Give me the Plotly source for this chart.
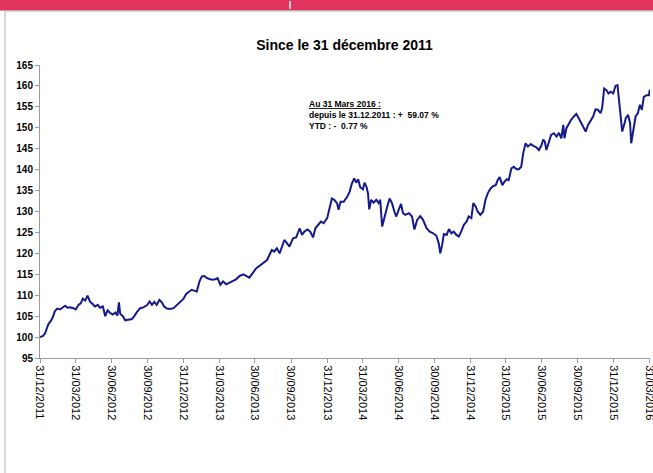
import pandas as pd
import plotly.graph_objects as go

start_date = "2011-12-31"
days_since_start = [
    0, 7, 13, 17, 21, 27, 32, 38, 44, 51, 57, 64, 70, 76, 85, 91, 98, 104, 109, 115,
    121, 127, 134, 140, 147, 153, 160, 166, 172, 178, 185, 192, 197, 201, 204, 211, 217,
    225, 234, 240, 246, 255, 263, 272, 279, 285, 291, 297, 304, 310, 316, 323, 331, 340,
    348, 357, 365, 372, 379, 386, 392, 399, 406, 412, 418, 425, 433, 440, 446, 452, 459,
    466, 474, 482, 491, 499, 508, 518, 527, 533, 550, 561, 569, 578, 584, 590, 596, 603,
    610, 616, 622, 629, 635, 644, 652, 661, 667, 673, 681, 688, 695, 701, 709, 715, 722,
    731, 737, 743, 749, 756, 760, 765, 773, 782, 788, 794, 800, 805, 810, 815, 822, 826,
    831, 835, 838, 843, 849, 856, 862, 866, 871, 877, 884, 890, 896, 902, 907, 913, 919,
    924, 930, 939, 947, 953, 960, 968, 975, 984, 992, 1001, 1009, 1015, 1019, 1024, 1028,
    1035, 1041, 1047, 1053, 1060, 1066, 1072, 1079, 1086, 1091, 1098, 1103, 1109, 1114,
    1121, 1128, 1134, 1140, 1147, 1154, 1160, 1165, 1170, 1177, 1182, 1188, 1193, 1200,
    1206, 1213, 1219, 1225, 1230, 1236, 1242, 1249, 1256, 1264, 1270, 1276, 1281, 1285,
    1289, 1295, 1301, 1308, 1315, 1321, 1327, 1332, 1335, 1340, 1346, 1352, 1359, 1365,
    1370, 1376, 1383, 1389, 1395, 1402, 1408, 1414, 1420, 1427, 1431, 1436, 1442, 1447,
    1453, 1459, 1465, 1470, 1474, 1478, 1482, 1487, 1491, 1497, 1502, 1505, 1510, 1516,
    1522, 1527, 1532, 1537, 1544, 1550, 1552,
]
index_values = [
    100.0, 100.2, 100.9, 102.0, 103.0, 103.8, 104.6, 106.2, 106.8, 106.6, 107.1, 107.5,
    107.0, 107.1, 106.9, 106.6, 107.7, 108.1, 109.2, 108.7, 109.9, 108.5, 107.9, 107.3,
    107.7, 107.0, 107.3, 105.0, 106.4, 105.8, 105.4, 105.9, 105.1, 108.3, 105.6, 105.0,
    104.0, 104.2, 104.3, 105.0, 105.9, 106.9, 107.1, 107.6, 108.5, 107.7, 108.4, 107.7,
    108.9, 108.3, 107.3, 106.8, 106.7, 106.9, 107.6, 108.5, 109.1, 110.3, 110.7, 111.3,
    111.1, 110.9, 113.3, 114.5, 114.6, 114.1, 113.8, 113.7, 113.8, 114.1, 112.5, 113.3,
    112.6, 113.0, 113.5, 113.8, 114.6, 115.0, 114.5, 114.2, 116.4, 117.2, 117.6, 118.4,
    119.6, 120.8, 120.4, 121.2, 120.0, 121.6, 123.2, 122.4, 121.6, 123.6, 123.8, 126.0,
    124.4, 125.2, 125.7, 125.2, 123.8, 126.0, 126.8, 127.6, 127.2, 128.4, 130.8, 133.1,
    132.8, 132.0, 130.4, 132.3, 132.3, 133.5, 134.7, 136.7, 137.9, 136.9, 137.7, 135.8,
    135.3, 136.9, 135.9, 134.3, 130.5, 132.8, 132.1, 132.8, 132.0, 132.8, 126.4, 128.8,
    131.2, 133.1, 132.0, 130.0, 128.8, 130.4, 131.8, 129.6, 129.2, 129.6, 128.8, 125.7,
    128.0, 128.9, 128.0, 126.0, 125.2, 124.8, 124.2, 122.4, 120.0, 122.2, 124.6, 124.4,
    125.8, 124.8, 125.2, 124.4, 124.0, 125.2, 126.8, 127.6, 128.8, 128.4, 132.0, 131.2,
    130.0, 129.2, 130.0, 132.8, 134.4, 135.5, 136.1, 136.3, 137.5, 138.2, 136.3, 137.1,
    137.7, 137.5, 140.3, 140.7, 140.1, 140.1, 140.7, 143.9, 146.3, 145.5, 146.1, 145.7,
    145.3, 144.7, 145.7, 147.2, 146.7, 144.7, 146.7, 148.3, 148.7, 147.9, 148.8, 147.5,
    150.7, 147.5, 149.9, 151.1, 151.9, 152.7, 153.3, 152.5, 151.5, 150.3, 149.1, 150.7,
    151.9, 152.7, 154.4, 154.3, 153.5, 154.7, 159.4, 159.0, 158.2, 158.6, 158.2, 160.0,
    160.2, 156.6, 151.9, 149.1, 150.7, 152.3, 153.1, 151.1, 146.3, 149.1, 152.7, 153.5,
    155.5, 154.3, 157.4, 157.8, 157.8, 159.07,
]
tick_dates = [
    "2011-12-31", "2012-03-31", "2012-06-30", "2012-09-30", "2012-12-31",
    "2013-03-31", "2013-06-30", "2013-09-30", "2013-12-31", "2014-03-31",
    "2014-06-30", "2014-09-30", "2014-12-31", "2015-03-31", "2015-06-30",
    "2015-09-30", "2015-12-31", "2016-03-31",
]
tick_labels = [pd.Timestamp(d).strftime("%d/%m/%Y") for d in tick_dates]
title_text = "Since le 31 décembre 2011"
note_lines = [
    "<u>Au 31 Mars 2016 :</u>",
    "depuis le 31.12.2011 : +  59.07 %",
    "YTD : -  0.77 %",
]

dates = pd.Timestamp(start_date) + pd.to_timedelta(days_since_start, unit="D")

fig = go.Figure()
fig.add_trace(go.Scatter(
    x=dates, y=index_values, mode="lines",
    line=dict(color="#141a8a", width=2),
    showlegend=False, hoverinfo="skip",
))

W, H = 653, 473
ml, mr, mt, mb = 40, 3, 65, 115
ph = H - mt - mb

def py(p):
    return (H - mb - p) / ph

def px(p):
    return (p - ml) / (W - ml - mr)

fig.update_layout(
    width=W, height=H,
    margin=dict(l=ml, r=mr, t=mt, b=mb),
    paper_bgcolor="white", plot_bgcolor="white",
    font=dict(family="Liberation Sans, Arial, sans-serif", color="black"),
    title=dict(text="<b>" + title_text + "</b>", x=px(344.5), xref="paper",
               y=1 - 45 / H, yanchor="middle", xanchor="center",
               font=dict(size=14, color="black")),
    xaxis=dict(
        type="date", range=[tick_dates[0], "2016-03-31 18:00"],
        tickmode="array", tickvals=tick_dates, ticktext=tick_labels,
        tickangle=90, tickfont=dict(size=11), ticklabeloverflow="allow",
        automargin=False,
        showgrid=False, zeroline=False,
        showline=True, linecolor="#9a9a9a", linewidth=1,
        ticks="outside", ticklen=4, tickcolor="#9a9a9a",
    ),
    yaxis=dict(
        range=[95, 165], dtick=5, tick0=95,
        tickfont=dict(size=10), tickprefix="<b>", ticksuffix="</b>",
        automargin=False,
        showgrid=False, zeroline=False,
        showline=True, linecolor="#9a9a9a", linewidth=1,
        ticks="outside", ticklen=4, tickcolor="#9a9a9a",
    ),
    shapes=[
        dict(type="rect", xref="paper", yref="paper",
             x0=px(0), x1=px(W), y0=py(10.5), y1=py(0),
             fillcolor="#e0335d", line=dict(width=0), layer="above"),
        dict(type="line", xref="paper", yref="paper",
             x0=px(290), x1=px(290), y0=py(9), y1=py(1),
             line=dict(color="white", width=1.5)),
        dict(type="line", xref="paper", yref="paper",
             x0=px(5), x1=px(5), y0=py(H), y1=py(10.5),
             line=dict(color="#b0b0b0", width=1)),
        dict(type="line", xref="paper", yref="paper",
             x0=px(5), x1=px(W), y0=py(11), y1=py(11),
             line=dict(color="#b0b0b0", width=1)),
    ],
    annotations=[
        dict(text="<b>" + "<br>".join(note_lines) + "</b>",
             xref="paper", yref="paper", x=px(307), y=py(97),
             xanchor="left", yanchor="top", align="left", showarrow=False,
             font=dict(size=8.5, color="black")),
    ],
)

fig.write_html("out.html")
